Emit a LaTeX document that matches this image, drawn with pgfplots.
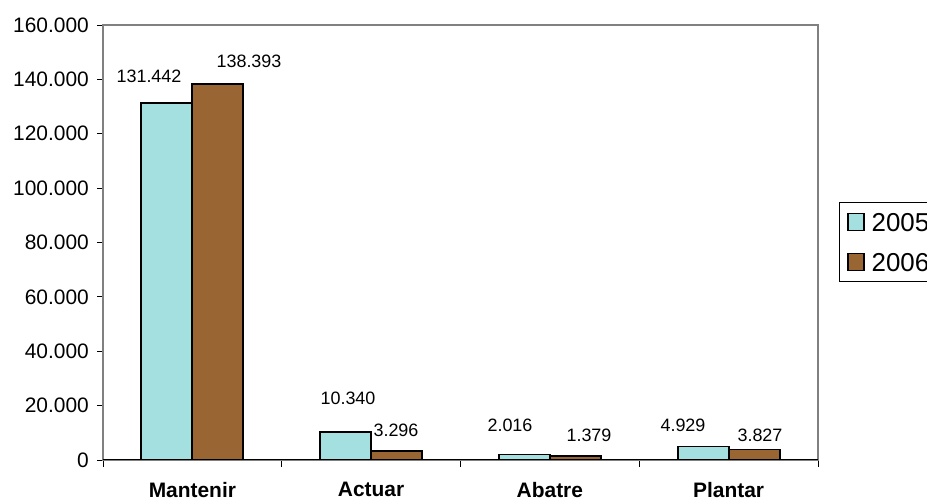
\documentclass[border=0pt]{standalone}
\usepackage{pgfplots}
\pgfplotsset{compat=1.18}
\usepackage{fontspec}
\setmainfont{Liberation Sans}
\definecolor{c05}{RGB}{165,224,224}
\definecolor{c06}{RGB}{153,102,51}
\definecolor{frame}{RGB}{128,128,128}
\begin{document}
\begin{tikzpicture}[x=1bp,y=1bp]
\useasboundingbox (0,0) rectangle (927,502);
\begin{axis}[
  at={(103bp,42bp)}, anchor=south west,
  scale only axis, width=715bp, height=435bp,
  xmin=-0.5, xmax=3.5, ymin=0, ymax=160000,
  ybar=0pt, bar width=51bp,
  axis line style={draw=frame, line width=1.5bp},
  xtick={0,1,2,3},
  xticklabels={Mantenir,Actuar,Abatre,Plantar},
  minor xtick={-0.5,0.5,1.5,2.5,3.5},
  xtick pos=bottom, ytick pos=left, tick align=outside,
  major x tick style={draw=none},
  minor x tick style={black, line width=0.8bp},
  minor tick length=7bp,
  major tick length=6bp,
  y tick style={black, line width=0.8bp},
  ytick={0,20000,40000,60000,80000,100000,120000,140000,160000},
  scaled y ticks=false,
  yticklabel style={/pgf/number format/fixed, /pgf/number format/precision=0, /pgf/number format/1000 sep={.}, /pgf/number format/assume math mode=true},
  yticklabel style={font=\fontsize{21}{24}\selectfont, inner sep=0pt, xshift=-8bp},
  xticklabel style={font=\fontsize{21}{24}\selectfont\bfseries, inner sep=0pt, yshift=-16bp},
  legend style={at={(1.029,0.409)}, anchor=south west, draw=black, line width=0.8bp,
    font=\fontsize{26}{30}\selectfont, inner xsep=8bp, inner ysep=10bp,
    nodes={inner sep=0pt, text height=19bp, text depth=0bp},
    row sep=21bp,
    /tikz/every odd column/.style={column sep=7bp}},
  legend cell align=left,
  legend image code/.code={\draw[#1, line width=1.5bp] (0bp,-8.5bp) rectangle (16bp,8.5bp);},
]
\addplot[fill=c05, draw=black, line width=1.8bp] coordinates {(0,131442) (1,10340) (2,2016) (3,4929)};
\addplot[fill=c06, draw=black, line width=1.8bp] coordinates {(0,138393) (1,3296) (2,1379) (3,3827)};
\legend{2005,2006}
\draw[black, line width=1bp] (rel axis cs:0,0) -- (rel axis cs:1,0);
\end{axis}
\begin{scope}[every node/.style={font=\fontsize{18}{20}\selectfont, inner sep=0pt}]
\node at (149,426) {131.442};
\node at (249,441) {138.393};
\node at (348,104) {10.340};
\node at (396,72) {3.296};
\node at (510,77) {2.016};
\node at (589,67) {1.379};
\node at (683,77) {4.929};
\node at (760,67) {3.827};
\end{scope}
\end{tikzpicture}
\end{document}
